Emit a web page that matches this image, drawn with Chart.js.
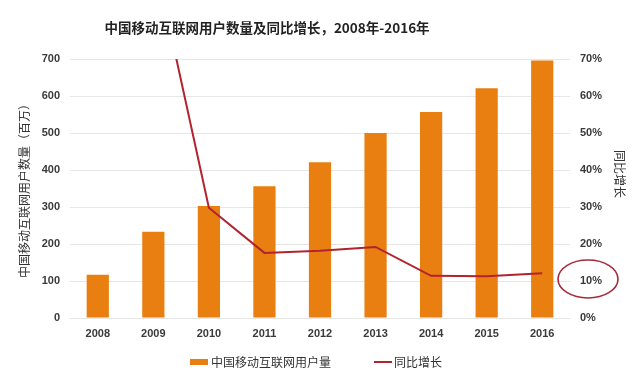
<!DOCTYPE html>
<html>
<head>
<meta charset="utf-8">
<script src="https://cdn.jsdelivr.net/npm/chart.js@4"></script>
<style>
html,body{margin:0;padding:0;background:#fff;}
#wrap{width:640px;height:385px;position:relative;}
</style>
</head>
<body>
<div id="wrap"><canvas id="c" width="640" height="385"></canvas></div>
<script>
const years = ['2008','2009','2010','2011','2012','2013','2014','2015','2016'];
const users = [117, 233, 303, 356, 421, 500, 557, 621, 696];
const growth = [null, 98.5, 29.8, 17.6, 18.2, 19.2, 11.4, 11.3, 12.1];
const leftTicks = [0,100,200,300,400,500,600,700];
const rightTicks = [0,10,20,30,40,50,60,70];
const titleText = '中国移动互联网用户数量及同比增长，2008年-2016年';
const leftTitle = '中国移动互联网用户数量（百万）';
const rightTitle = '同比增长';
const legendBar = '中国移动互联网用户量';
const legendLine = '同比增长';

const BAR = '#E87F10';
const RED = '#B2232F';
const CJK = '"Noto Sans CJK SC", "Liberation Sans", sans-serif';
const NUM = '"Liberation Sans", "Noto Sans CJK SC", sans-serif';

const extras = {
  id: 'extras',
  afterDraw(chart) {
    const ctx = chart.ctx;
    ctx.save();
    // title
    ctx.fillStyle = '#222';
    ctx.font = 'bold 13.5px ' + CJK;
    ctx.textAlign = 'center';
    ctx.textBaseline = 'middle';
    ctx.fillText(titleText, 267, 28);
    // left axis title
    ctx.font = '12px ' + CJK;
    ctx.fillStyle = '#333';
    ctx.save();
    ctx.translate(24, 188);
    ctx.rotate(-Math.PI/2);
    ctx.fillText(leftTitle, 0, 0);
    ctx.restore();
    // right axis title
    ctx.save();
    ctx.translate(620, 174);
    ctx.rotate(Math.PI/2);
    ctx.fillText(rightTitle, 0, 0);
    ctx.restore();
    // legend
    ctx.textAlign = 'left';
    ctx.font = '12px ' + CJK;
    ctx.fillStyle = BAR;
    ctx.fillRect(190, 359, 18, 6);
    ctx.fillStyle = '#333';
    ctx.fillText(legendBar, 211, 362);
    ctx.strokeStyle = RED;
    ctx.lineWidth = 2;
    ctx.beginPath();
    ctx.moveTo(374, 362); ctx.lineTo(392, 362);
    ctx.stroke();
    ctx.fillText(legendLine, 394, 362);
    // highlight ellipse around 10%
    const y1 = chart.scales.y1;
    const cy = y1.getPixelForValue(10) - 2;
    ctx.strokeStyle = '#A52A3A';
    ctx.lineWidth = 1.6;
    ctx.beginPath();
    ctx.ellipse(588, cy, 30, 19, 0, 0, Math.PI*2);
    ctx.stroke();
    ctx.restore();
  }
};

new Chart(document.getElementById('c'), {
  data: {
    labels: years,
    datasets: [
      {
        type: 'line', label: legendLine, data: growth, yAxisID: 'y1',
        borderColor: RED, borderWidth: 2, pointRadius: 0, tension: 0,
        fill: false, order: 0
      },
      {
        type: 'bar', label: legendBar, data: users, yAxisID: 'y',
        backgroundColor: BAR, barPercentage: 0.4, categoryPercentage: 1.0, order: 1
      }
    ]
  },
  options: {
    responsive: false,
    animation: false,
    layout: { padding: { top: 59, left: 0, right: 0, bottom: 0 } },
    plugins: { legend: { display: false }, title: { display: false }, tooltip: { enabled: false } },
    scales: {
      x: {
        offset: true,
        grid: { display: false, drawTicks: false },
        border: { display: false },
        ticks: { color: '#3a3a3a', font: { family: NUM, size: 11, weight: 'bold' }, padding: 9, maxRotation: 0 },
        afterFit(s) { s.height = 67; }
      },
      y: {
        position: 'left', min: 0, max: 700,
        afterBuildTicks(s) { s.ticks = leftTicks.map(v => ({ value: v })); },
        grid: { color: '#e6e6e6', lineWidth: 1, drawTicks: false },
        border: { display: false },
        ticks: { color: '#3a3a3a', font: { family: NUM, size: 11, weight: 'bold' }, padding: 10 },
        afterFit(s) { s.width = 70; }
      },
      y1: {
        position: 'right', min: 0, max: 70,
        afterBuildTicks(s) { s.ticks = rightTicks.map(v => ({ value: v })); },
        grid: { display: false, drawTicks: false },
        border: { display: false },
        ticks: { color: '#3a3a3a', font: { family: NUM, size: 11, weight: 'bold' }, padding: 10, callback: v => v + '%' },
        afterFit(s) { s.width = 70; }
      }
    }
  },
  plugins: [extras]
});
</script>
</body>
</html>
